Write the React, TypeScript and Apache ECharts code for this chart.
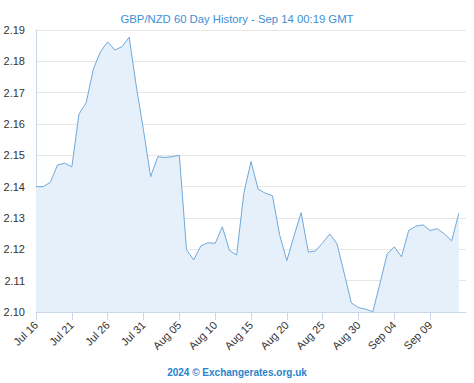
import React, { useEffect, useRef } from "react";
import * as echarts from "echarts";

const titleText = "GBP/NZD 60 Day History - Sep 14 00:19 GMT";
const footerText = "2024 © Exchangerates.org.uk";

// Day offsets from Jul 16, 2024 (0 .. 59)
const rates: number[] = [
  2.1400, 2.1400, 2.1414, 2.1469, 2.1475, 2.1463, 2.1632, 2.1668, 2.1775, 2.1831,
  2.1862, 2.1836, 2.1847, 2.1877, 2.1720, 2.1580, 2.1432, 2.1496, 2.1493, 2.1496,
  2.1500, 2.1199, 2.1166, 2.1211, 2.1221, 2.1219, 2.1272, 2.1196, 2.1182, 2.1379,
  2.1480, 2.1392, 2.1379, 2.1371, 2.1246, 2.1164, 2.1243, 2.1317, 2.1191, 2.1195,
  2.1221, 2.1249, 2.1218, 2.1124, 2.1029, 2.1014, 2.1009, 2.1001, 2.1092, 2.1185,
  2.1208, 2.1176, 2.1260, 2.1274, 2.1278, 2.1260, 2.1266, 2.1249, 2.1227, 2.1315,
];

const tickLabels: string[] = [
  "Jul 16", "Jul 21", "Jul 26", "Jul 31", "Aug 05", "Aug 10",
  "Aug 15", "Aug 20", "Aug 25", "Aug 30", "Sep 04", "Sep 09",
];

const yMin = 2.1;
const yMax = 2.19;

export default function App() {
  const ref = useRef<HTMLDivElement>(null);
  useEffect(() => {
    if (!ref.current) return;
    const chart = echarts.init(ref.current, undefined, { renderer: "svg" });
    const font = "'Liberation Sans', Arial, sans-serif";
    chart.setOption({
      animation: false,
      textStyle: { fontFamily: font },
      title: [
        {
          text: titleText,
          left: "center",
          top: 8,
          textStyle: { color: "#3d8fd6", fontSize: 11.3, fontWeight: "normal", fontFamily: font },
        },
        {
          text: footerText,
          left: "center",
          top: 362,
          textStyle: { color: "#2a82cc", fontSize: 10, fontWeight: "bold", fontFamily: font },
        },
      ],
      grid: { left: 36, right: 8, top: 30, bottom: 71, containLabel: false },
      xAxis: {
        type: "value",
        min: 0,
        max: 60,
        interval: 5,
        axisLine: { show: true, lineStyle: { color: "#ccd6eb" } },
        axisTick: { show: true, length: 8, lineStyle: { color: "#ccd6eb" } },
        splitLine: { show: false },
        axisLabel: {
          rotate: 45,
          margin: 11,
          color: "#333",
          fontSize: 11,
          fontFamily: font,
          showMaxLabel: false,
          formatter: (v: number) => tickLabels[Math.round(v / 5)] ?? "",
        },
      },
      yAxis: {
        type: "value",
        min: yMin,
        max: yMax,
        interval: 0.01,
        axisLine: { show: true, lineStyle: { color: "#ccd6eb" } },
        axisTick: { show: false },
        splitLine: { show: true, lineStyle: { color: "#e6e6e6" } },
        axisLabel: {
          color: "#333",
          fontSize: 11,
          fontFamily: font,
          margin: 11,
          formatter: (v: number) => v.toFixed(2),
        },
      },
      series: [
        {
          type: "line",
          data: rates.map((r, i) => [i, r]),
          showSymbol: false,
          symbol: "none",
          lineStyle: { color: "#6fa8dc", width: 1 },
          areaStyle: { color: "#e5f0fa", opacity: 1, origin: "start" },
        },
      ],
    });
    return () => chart.dispose();
  }, []);
  return <div ref={ref} style={{ width: 474, height: 383, position: "absolute", left: 0, top: 0 }} />;
}
